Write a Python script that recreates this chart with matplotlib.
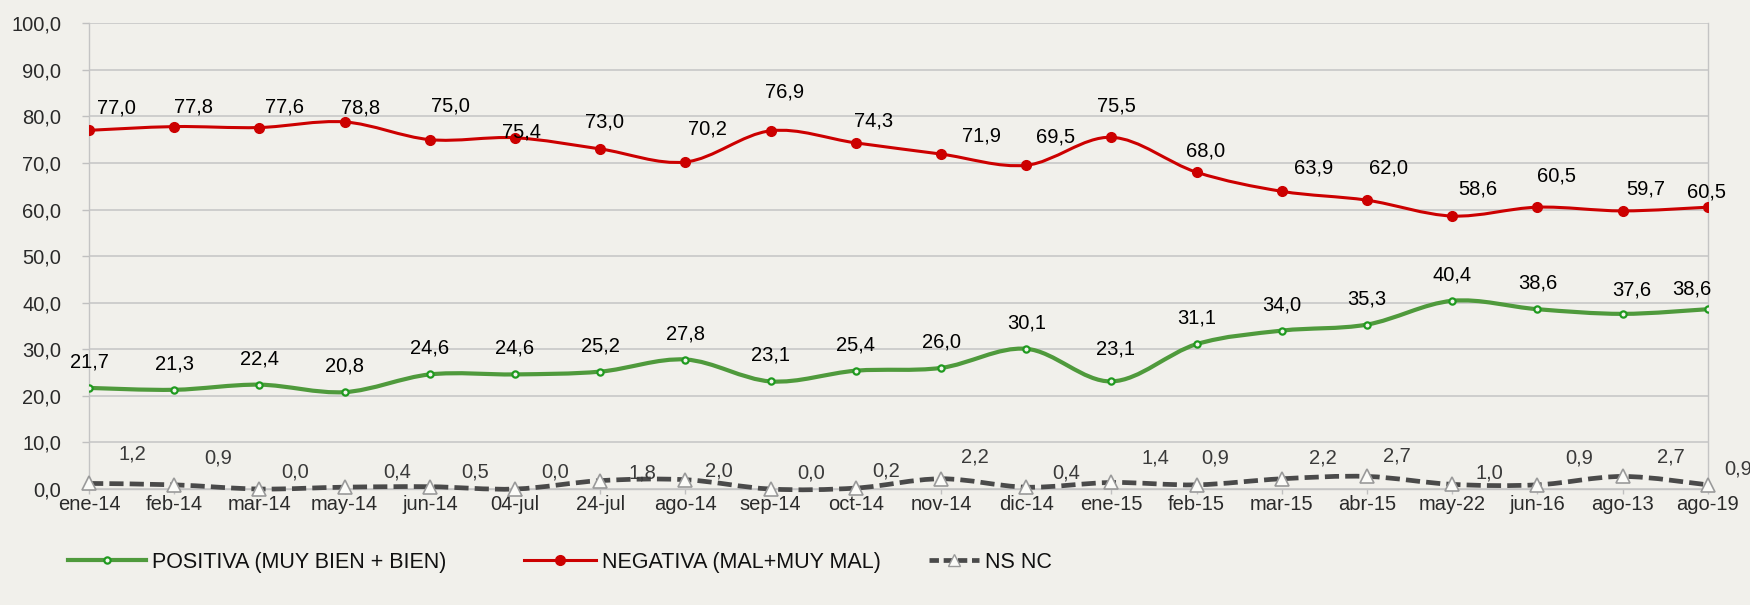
import numpy as np
import matplotlib
matplotlib.use('Agg')
import matplotlib.pyplot as plt
from matplotlib.path import Path
from matplotlib.patches import PathPatch
from matplotlib.lines import Line2D
from matplotlib.ticker import FuncFormatter

plt.rcParams['font.family'] = ['Liberation Sans', 'DejaVu Sans']

# ---- data ----
categorias = ['ene-14', 'feb-14', 'mar-14', 'may-14', 'jun-14', '04-jul', '24-jul',
              'ago-14', 'sep-14', 'oct-14', 'nov-14', 'dic-14', 'ene-15', 'feb-15',
              'mar-15', 'abr-15', 'may-22', 'jun-16', 'ago-13', 'ago-19']
positiva = [21.7, 21.3, 22.4, 20.8, 24.6, 24.6, 25.2, 27.8, 23.1, 25.4,
            26.0, 30.1, 23.1, 31.1, 34.0, 35.3, 40.4, 38.6, 37.6, 38.6]
negativa = [77.0, 77.8, 77.6, 78.8, 75.0, 75.4, 73.0, 70.2, 76.9, 74.3,
            71.9, 69.5, 75.5, 68.0, 63.9, 62.0, 58.6, 60.5, 59.7, 60.5]
nsnc = [1.2, 0.9, 0.0, 0.4, 0.5, 0.0, 1.8, 2.0, 0.0, 0.2,
        2.2, 0.4, 1.4, 0.9, 2.2, 2.7, 1.0, 0.9, 2.7, 0.9]
nombres = ['POSITIVA (MUY BIEN + BIEN)', 'NEGATIVA (MAL+MUY MAL)', 'NS NC']

# label offsets (pixels: right, up) as placed in the original
off_neg = [(27, 22), (19, 20), (25, 21), (16, 14), (21, 34), (6, 6), (4, 27),
           (22, 33), (14, 39), (18, 22), (40, 18), (29, 28), (5, 31), (9, 21),
           (32, 23), (21, 32), (26, 27), (19, 31), (23, 22), (-1, 15)]
off_pos = [(0, 26)] * 12 + [(4, 32)] + [(0, 26)] * 5 + [(9, 24), (-16, 20)]
off_ns = [(43, 29), (44, 27), (36, 17), (53, 15), (45, 15), (40, 17), (42, 8),
          (33, 9), (40, 16), (30, 17), (34, 22), (40, 14), (44, 24), (19, 27),
          (41, 21), (30, 20), (37, 11), (42, 27), (48, 19), (30, 16)]

bg = '#f1f0eb'
c_pos = '#4f9a3c'
c_pos_mk = '#1f9a1f'
c_neg = '#cc0000'
c_ns = '#4a4a4a'


def smooth_path(x, y):
    # Excel-style smoothed line: cubic bezier through every point
    x = np.asarray(x, float)
    y = np.asarray(y, float)
    n = len(x)
    verts = [(x[0], y[0])]
    codes = [Path.MOVETO]
    for i in range(n - 1):
        i0 = max(i - 1, 0)
        i3 = min(i + 2, n - 1)
        c1 = (x[i] + (x[i + 1] - x[i0]) / 6, y[i] + (y[i + 1] - y[i0]) / 6)
        c2 = (x[i + 1] - (x[i3] - x[i]) / 6, y[i + 1] - (y[i3] - y[i]) / 6)
        verts += [c1, c2, (x[i + 1], y[i + 1])]
        codes += [Path.CURVE4] * 3
    return Path(verts, codes)


fig = plt.figure(figsize=(17.5, 6.05), dpi=100, facecolor=bg)
ax = fig.add_axes([0.0509, 0.1917, 0.925, 0.770])
ax.set_facecolor(bg)

xs = np.arange(len(categorias))

# lines
ax.add_patch(PathPatch(smooth_path(xs, negativa), fill=False, edgecolor=c_neg,
                       lw=2.2, zorder=3))
ax.add_patch(PathPatch(smooth_path(xs, positiva), fill=False, edgecolor=c_pos,
                       lw=3.0, zorder=3))
ax.add_patch(PathPatch(smooth_path(xs, nsnc), fill=False, edgecolor=c_ns,
                       lw=3.4, linestyle=(0, (3.0, 1.3)), zorder=3, clip_on=False))

# markers
ax.plot(xs, negativa, 'o', ms=7, color=c_neg, zorder=4)
ax.plot(xs, positiva, 'o', ms=4.5, mfc='#f4f4ee', mec=c_pos_mk, mew=1.6, zorder=4)
ax.plot(xs, nsnc, '^', ms=10.5, mfc='#fbfbf8', mec='#9a9a9a', mew=1.2, zorder=4,
        clip_on=False)

# data labels
fmt = lambda v: f'{v:.1f}'.replace('.', ',')
for i in xs:
    ax.annotate(fmt(negativa[i]), (i, negativa[i]), xytext=off_neg[i],
                textcoords='offset pixels', ha='center', va='center',
                fontsize=14.5, color='#000000', zorder=5)
    ax.annotate(fmt(positiva[i]), (i, positiva[i]), xytext=off_pos[i],
                textcoords='offset pixels', ha='center', va='center',
                fontsize=14.5, color='#000000', zorder=5)
    ax.annotate(fmt(nsnc[i]), (i, nsnc[i]), xytext=off_ns[i],
                textcoords='offset pixels', ha='center', va='center',
                fontsize=14.5, color='#3a3a3a', zorder=5, annotation_clip=False)

ax.set_xlim(0, len(categorias) - 1)
ax.set_ylim(0, 100)
ax.set_yticks(np.arange(0, 101, 10))
ax.yaxis.set_major_formatter(FuncFormatter(lambda v, p: f'{v:.1f}'.replace('.', ',')))
ax.set_xticks(xs)
ax.set_xticklabels(categorias)
ax.tick_params(axis='both', labelsize=14.5, colors='#c0c0c0', labelcolor='#2a2a2a',
               width=1)
ax.tick_params(axis='x', length=3.6, pad=0.5)
ax.tick_params(axis='y', length=5, pad=15)
ax.grid(axis='y', color='#c8c8c8', lw=1.2)
ax.set_axisbelow(True)
for s in ['left', 'right', 'bottom']:
    ax.spines[s].set_color('#c4c4c4')
    ax.spines[s].set_linewidth(1)
ax.spines['top'].set_visible(False)

handles = [
    Line2D([], [], color=c_pos, lw=3.0, marker='o', ms=4.5, mfc='#f4f4ee',
           mec=c_pos_mk, mew=1.6),
    Line2D([], [], color=c_neg, lw=2.2, marker='o', ms=7),
    Line2D([], [], color=c_ns, lw=3.4, linestyle=(0, (2.0, 1.0)), marker='^', ms=8,
           mfc='#fbfbf8', mec='#9a9a9a', mew=1.0),
]
leg_x = [0.0279, 0.2881, 0.5200]
leg_len = [3.6, 3.35, 2.3]
for h, nom, lx, hl in zip(handles, nombres, leg_x, leg_len):
    leg = fig.legend([h], [nom], loc='center left', bbox_to_anchor=(lx, 0.071),
                     frameon=False, fontsize=15.5, handlelength=hl,
                     handletextpad=0.3)
    for t in leg.get_texts():
        t.set_color('#111111')

fig.savefig('out.png', dpi=100, facecolor=bg)
